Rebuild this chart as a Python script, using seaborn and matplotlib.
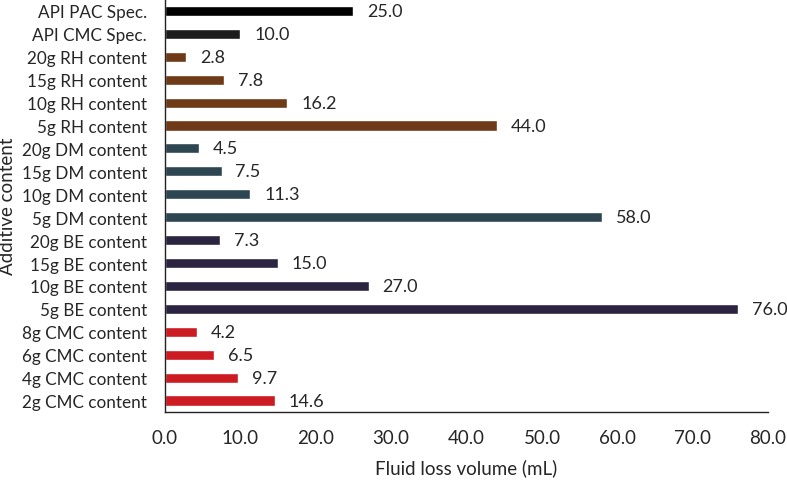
import matplotlib
matplotlib.use("Agg")
import pandas as pd
import seaborn as sns
import matplotlib.pyplot as plt

sns.set_style("white")
plt.rcParams['font.family'] = ['Lato', 'DejaVu Sans']

# categories listed top to bottom
categories = [
    'API PAC Spec.', 'API CMC Spec.',
    '20g RH content', '15g RH content', '10g RH content', '5g RH content',
    '20g DM content', '15g DM content', '10g DM content', '5g DM content',
    '20g BE content', '15g BE content', '10g BE content', '5g BE content',
    '8g CMC content', '6g CMC content', '4g CMC content', '2g CMC content',
]
fluid_loss = [25.0, 10.0,
              2.8, 7.8, 16.2, 44.0,
              4.5, 7.5, 11.3, 58.0,
              7.3, 15.0, 27.0, 76.0,
              4.2, 6.5, 9.7, 14.6]
groups = ['PAC', 'APICMC'] + ['RH'] * 4 + ['DM'] * 4 + ['BE'] * 4 + ['CMC'] * 4
group_colors = {'PAC': '#000000', 'APICMC': '#1c1c1c', 'RH': '#6e3a17',
                'DM': '#2d4652', 'BE': '#2c2541', 'CMC': '#cc1b21'}

df = pd.DataFrame({'content': categories, 'loss': fluid_loss, 'group': groups})

fig, ax = plt.subplots(figsize=(7.87, 4.81), dpi=100)
fig.subplots_adjust(left=0.2097, right=0.976, bottom=0.1414, top=0.999)

sns.barplot(data=df, y='content', x='loss', hue='group', palette=group_colors,
            order=categories, dodge=False, width=0.44, legend=False, ax=ax,
            saturation=1)

for cont in ax.containers:
    ax.bar_label(cont, fmt='%.1f', padding=10, fontsize=13, color='#262626')

ax.set_xlim(0, 80)
ax.set_xticks(range(0, 81, 10))
ax.set_xticklabels([f'{v:.1f}' for v in range(0, 81, 10)])
ax.tick_params(axis='x', length=0, labelsize=13.5, colors='#262626', pad=12)
ax.tick_params(axis='y', length=0, labelsize=12.3, colors='#262626', pad=13)
ax.set_xlabel('Fluid loss volume (mL)', fontsize=13.5, labelpad=9, color='#262626')
ax.set_ylabel('Additive content', fontsize=13.5, labelpad=4, color='#262626')

sns.despine(ax=ax, top=True, right=True)
for s in ('left', 'bottom'):
    ax.spines[s].set_color('#222222')
    ax.spines[s].set_linewidth(1.0)

fig.savefig('out.png', dpi=100)
